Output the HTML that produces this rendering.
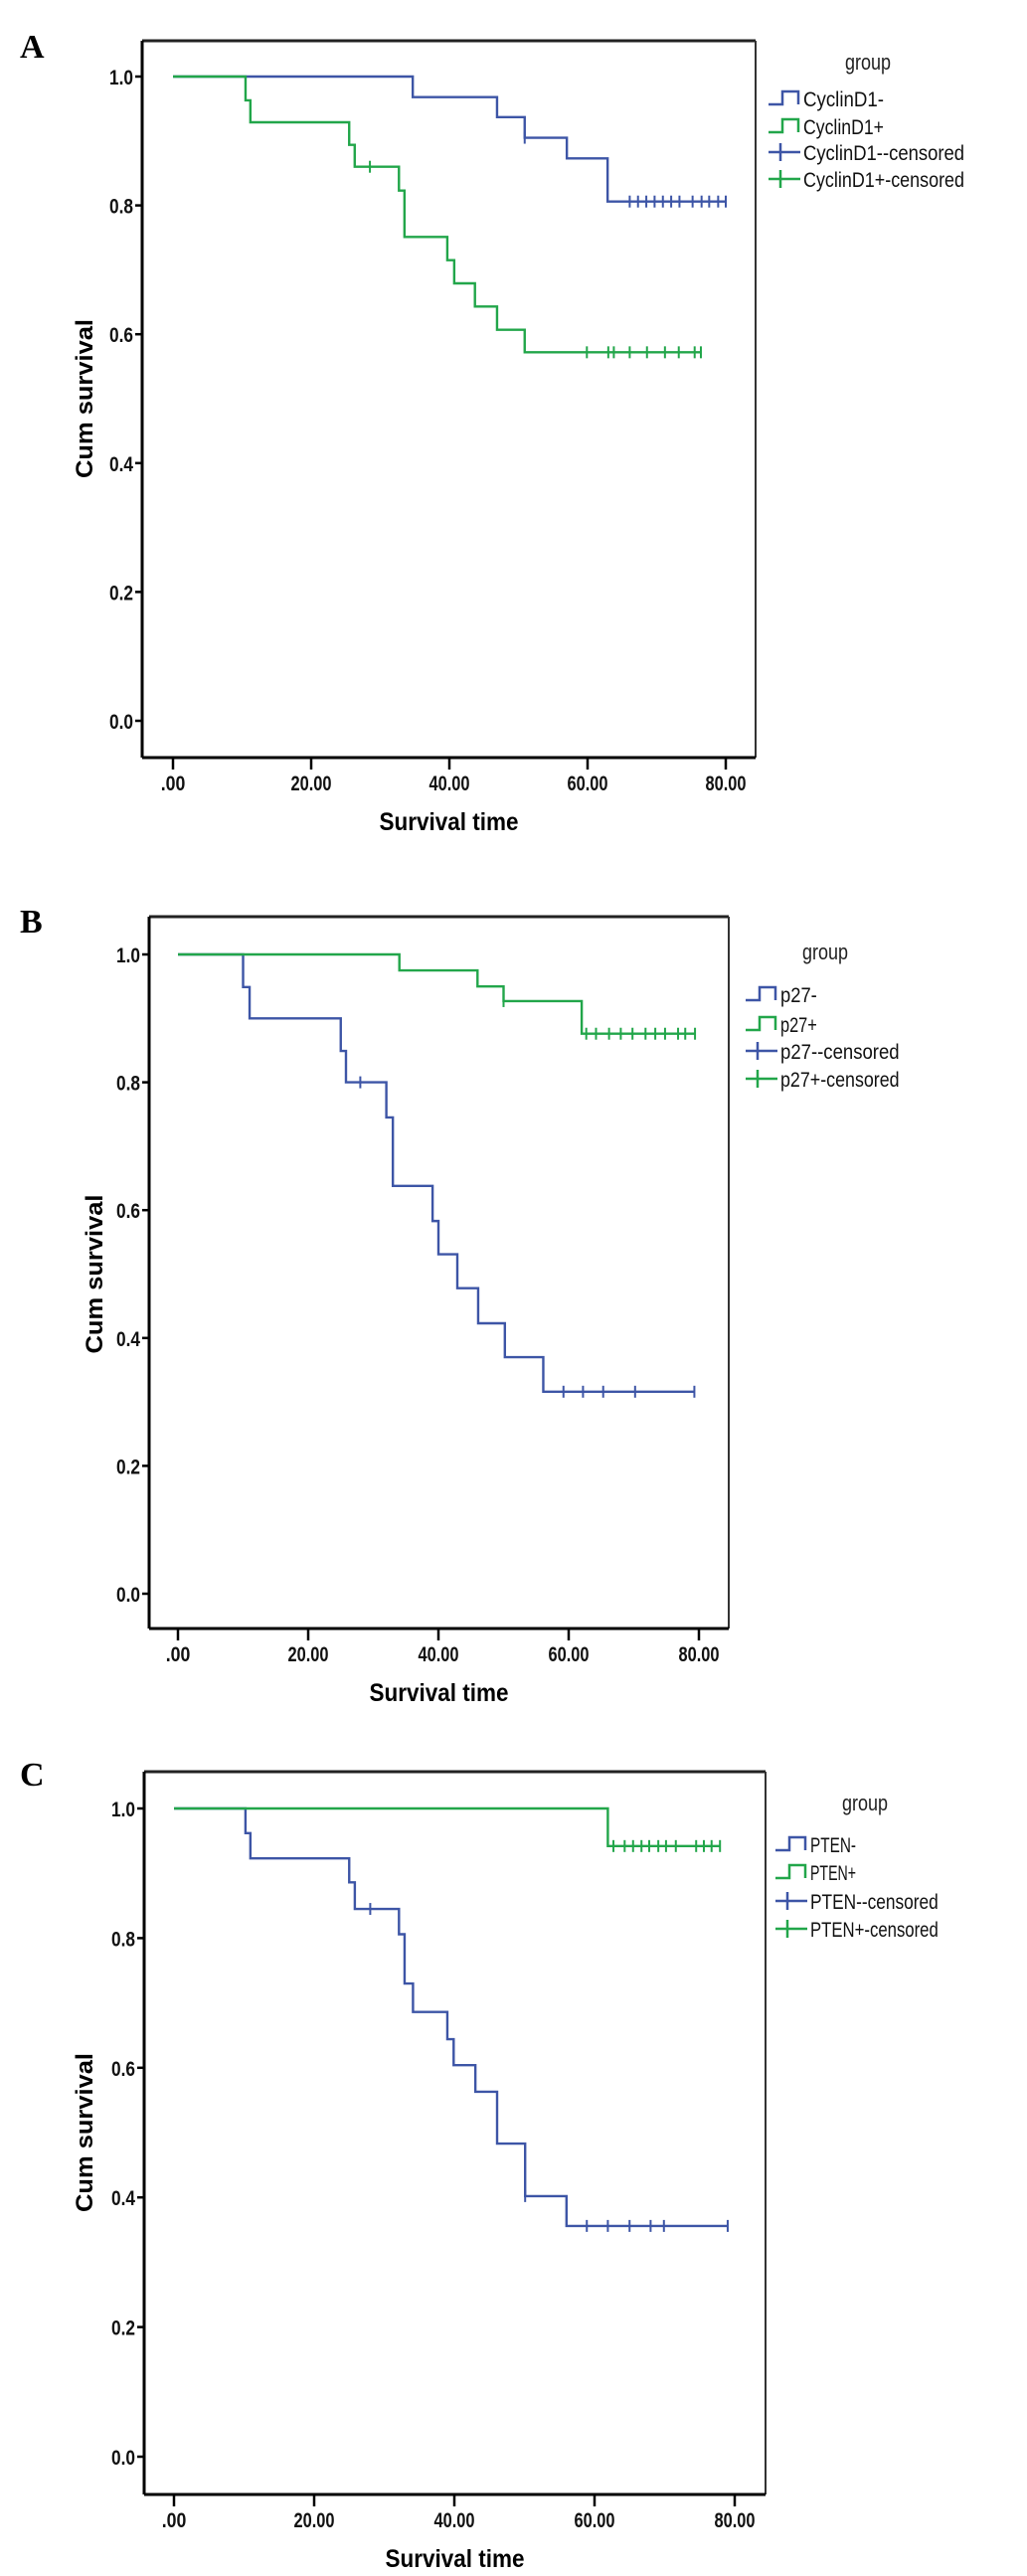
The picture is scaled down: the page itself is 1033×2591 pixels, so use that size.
<!DOCTYPE html>
<html><head><meta charset="utf-8">
<style>
html,body{margin:0;padding:0;background:#fff;}
svg{display:block;}
text{font-family:"Liberation Sans",Arial,sans-serif;}
</style></head>
<body>
<svg id="fig" width="1033" height="2591" viewBox="0 0 1033 2591" xmlns="http://www.w3.org/2000/svg"></svg>
<script>
// ---- Panel A data (CyclinD1) ----
const aNegEventT = [34.7, 46.9, 50.9, 57.0, 62.9];
const aNegEventS = [0.968, 0.937, 0.905, 0.873, 0.806];
const aNegCensT = [50.9, 66.1, 67.3, 68.5, 69.7, 70.9, 72.1, 73.3, 75.2, 76.5, 77.6, 78.9, 80.0];
const aPosEventT = [10.5, 11.2, 25.5, 26.3, 32.7, 33.5, 39.7, 40.7, 43.7, 46.9, 50.9];
const aPosEventS = [0.963, 0.929, 0.894, 0.860, 0.823, 0.751, 0.715, 0.679, 0.643, 0.607, 0.572];
const aPosCensT = [28.5, 59.9, 63.0, 63.8, 66.1, 68.6, 71.2, 73.2, 75.5, 76.4];
// ---- Panel B data (p27) ----
const bNegEventT = [10.0, 11.0, 25.0, 25.8, 32.0, 33.0, 39.1, 40.0, 42.9, 46.1, 50.2, 56.1];
const bNegEventS = [0.949, 0.900, 0.849, 0.800, 0.745, 0.638, 0.583, 0.531, 0.478, 0.423, 0.370, 0.316];
const bNegCensT = [28.0, 59.2, 62.2, 65.3, 70.2, 79.3];
const bPosEventT = [34.0, 46.0, 50.0, 62.0];
const bPosEventS = [0.975, 0.950, 0.927, 0.876];
const bPosCensT = [50.0, 62.7, 64.2, 66.2, 68.0, 69.8, 71.8, 73.3, 74.8, 76.8, 77.9, 79.4];
// ---- Panel C data (PTEN) ----
const cNegEventT = [10.2, 10.9, 25.0, 25.8, 32.1, 32.9, 34.1, 39.0, 39.9, 43.0, 46.1, 50.1, 56.0];
const cNegEventS = [0.962, 0.923, 0.886, 0.845, 0.806, 0.730, 0.686, 0.644, 0.604, 0.563, 0.483, 0.402, 0.356];
const cNegCensT = [28.0, 50.1, 58.9, 61.9, 65.0, 68.0, 69.9, 79.0];
const cPosEventT = [61.9];
const cPosEventS = [0.942];
const cPosCensT = [62.7, 64.3, 65.5, 66.7, 67.8, 69.1, 70.2, 71.6, 74.5, 75.6, 76.7, 77.9];
// ---- axis ticks ----
const yTicks = [0, 0.2, 0.4, 0.6, 0.8, 1.0];
const yTickLabels = ["0.0", "0.2", "0.4", "0.6", "0.8", "1.0"];
const xTicks = [0, 20, 40, 60, 80];
const xTickLabels = [".00", "20.00", "40.00", "60.00", "80.00"];

const BLUE = "#3d55a6", GREEN = "#22a64a";
const NS = "http://www.w3.org/2000/svg";
const svg = document.getElementById("fig");
function el(tag, attrs, parent) {
  const e = document.createElementNS(NS, tag);
  for (const k in attrs) e.setAttribute(k, attrs[k]);
  (parent || svg).appendChild(e);
  return e;
}
function stepS(t, ts, ss) {
  let s = 1;
  for (let i = 0; i < ts.length; i++) if (ts[i] <= t) s = ss[i];
  return s;
}

function drawPanel(p) {
  const g = el("g", {});
  
  
  const xs = t => p.x0 + (p.x80 - p.x0) * t / 80;
  const ys = s => p.y0 + (p.y1 - p.y0) * s;

  const lab = el("text", {x: p.lx, y: p.ly, style: "font-family:'Liberation Serif',serif;font-weight:bold;font-size:34px"}, g);
  lab.textContent = p.letter;
  
  

  // frame
  const fr = el("g", {}, g);
  
  
  el("line", {x1: p.left, y1: p.top, x2: p.right, y2: p.top, stroke: "#222", "stroke-width": 3}, fr);
  el("line", {x1: p.right, y1: p.top, x2: p.right, y2: p.bottom, stroke: "#333", "stroke-width": 2}, fr);
  el("line", {x1: p.left, y1: p.top, x2: p.left, y2: p.bottom, stroke: "#000", "stroke-width": 3}, fr);
  el("line", {x1: p.left, y1: p.bottom, x2: p.right, y2: p.bottom, stroke: "#000", "stroke-width": 3}, fr);

  // y ticks
  yTicks.forEach((v, i) => {
    const y = ys(v);
    const tk = el("line", {x1: p.left - 7, y1: y, x2: p.left, y2: y, stroke: "#000", "stroke-width": 2.5}, g);
    
    
    const t = el("text", {x: p.left - 9, y: y + 8, "text-anchor": "end", "font-size": 21, "font-weight": "bold", textLength: 24, lengthAdjust: "spacingAndGlyphs", fill: "#111"}, g);
    t.textContent = yTickLabels[i];
    
    
  });
  // x ticks
  xTicks.forEach((v, i) => {
    const x = xs(v);
    const tk = el("line", {x1: x, y1: p.bottom, x2: x, y2: p.bottom + 12, stroke: "#000", "stroke-width": 2.5}, g);
    
    
    const lbl = xTickLabels[i];
    const t = el("text", {x: x, y: p.bottom + 33, "text-anchor": "middle", "font-size": 21, "font-weight": "bold", textLength: lbl.length * 8.2, lengthAdjust: "spacingAndGlyphs", fill: "#111"}, g);
    t.textContent = lbl;
    
    
  });
  // axis titles
  const xt = el("text", {x: (p.left + p.right) / 2, y: p.bottom + 73, "text-anchor": "middle", "font-size": 25, "font-weight": "bold", textLength: 140, lengthAdjust: "spacingAndGlyphs", fill: "#000"}, g);
  xt.textContent = "Survival time";
  
  
  const cy = (p.y0 + p.y1) / 2;
  const yt = el("text", {x: 0, y: 0, transform: "translate(" + (p.yTitleX) + "," + cy + ") rotate(-90)", "text-anchor": "middle", "font-size": 24, "font-weight": "bold", textLength: 160, lengthAdjust: "spacingAndGlyphs", fill: "#000"}, g);
  yt.textContent = "Cum survival";
  
  

  // curves
  function curve(ts, ss, cens, color, name) {
    let d = "M" + xs(0) + "," + ys(1);
    for (let i = 0; i < ts.length; i++) {
      d += " H" + xs(ts[i]) + " V" + ys(ss[i]);
    }
    const maxT = Math.max(...cens, ...ts);
    d += " H" + xs(maxT);
    const path = el("path", {d: d, fill: "none", stroke: color, "stroke-width": 2.4}, g);
    
    
    cens.forEach(t => {
      const y = ys(stepS(t, ts, ss));
      const m = el("line", {x1: xs(t), y1: y - 6, x2: xs(t), y2: y + 6, stroke: color, "stroke-width": 2}, g);
      
      
    });
  }
  curve(p.negT, p.negS, p.negC, BLUE, p.neg.toLowerCase().replace(/[^a-z0-9]/g, '') + '-neg');
  curve(p.posT, p.posS, p.posC, GREEN, p.neg.toLowerCase().replace(/[^a-z0-9]/g, '') + '-pos');

  // legend
  const lg = el("g", {}, g);
  
  
  const gt = el("text", {x: p.gx, y: p.gy + 8, "font-size": 22, textLength: 46, lengthAdjust: "spacingAndGlyphs", fill: "#222"}, lg);
  gt.textContent = "group";
  
  
  const names = [p.neg + "-", p.neg + "+", p.neg + "--censored", p.neg + "+-censored"];
  const colors = [BLUE, GREEN, BLUE, GREEN];
  names.forEach((nm, i) => {
    const y = p.legY[i];
    const sx = p.symX;
    const entry = el("g", {}, lg);
    
    
    if (i < 2) {
      el("path", {d: "M" + sx + "," + (y + 6) + " H" + (sx + 14) + " V" + (y - 7) + " H" + (sx + 30) + " V" + (y + 6), fill: "none", stroke: colors[i], "stroke-width": 2.5}, entry);
    } else {
      el("line", {x1: sx, y1: y, x2: sx + 32, y2: y, stroke: colors[i], "stroke-width": 2.5}, entry);
      el("line", {x1: sx + 12, y1: y - 9, x2: sx + 12, y2: y + 9, stroke: colors[i], "stroke-width": 2.5}, entry);
    }
    const tx = el("text", {x: sx + 35, y: y + 8, "font-size": 21, textLength: nm.length * p.charW, lengthAdjust: "spacingAndGlyphs", fill: "#111"}, entry);
    tx.textContent = nm;
  });
}

drawPanel({letter: "A", lx: 20, ly: 58, left: 143, right: 760, top: 41, bottom: 762,
  x0: 174, x80: 730, y1: 77, y0: 725, yTitleX: 93,
  negT: aNegEventT, negS: aNegEventS, negC: aNegCensT, posT: aPosEventT, posS: aPosEventS, posC: aPosCensT,
  neg: "CyclinD1", gx: 850, gy: 62, symX: 773, legY: [99, 127, 153, 180], charW: 9.0});
drawPanel({letter: "B", lx: 20, ly: 938, left: 150, right: 733, top: 922, bottom: 1638,
  x0: 179, x80: 703, y1: 960, y0: 1603, yTitleX: 103,
  negT: bNegEventT, negS: bNegEventS, negC: bNegCensT, posT: bPosEventT, posS: bPosEventS, posC: bPosCensT,
  neg: "p27", gx: 807, gy: 957, symX: 750, legY: [1000, 1030, 1057, 1085], charW: 9.2});
drawPanel({letter: "C", lx: 20, ly: 1796, left: 145, right: 770, top: 1782, bottom: 2509,
  x0: 175, x80: 739, y1: 1819, y0: 2471, yTitleX: 93,
  negT: cNegEventT, negS: cNegEventS, negC: cNegCensT, posT: cPosEventT, posS: cPosEventS, posC: cPosCensT,
  neg: "PTEN", gx: 847, gy: 1813, symX: 780, legY: [1855, 1883, 1912, 1940], charW: 9.2});
</script>
</body></html>
